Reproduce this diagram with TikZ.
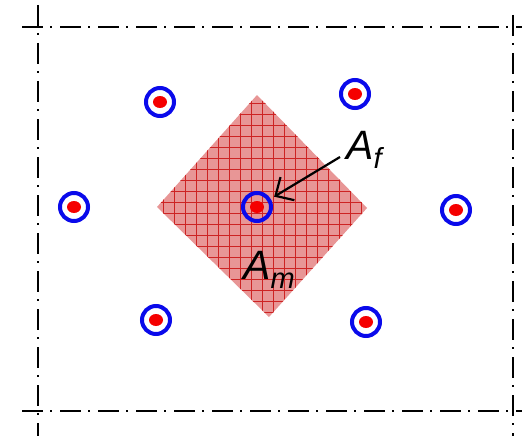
\documentclass[tikz,border=0pt]{standalone}
\usepackage{fontspec}
\setmainfont{Liberation Sans}
\usetikzlibrary{arrows.meta}
\definecolor{ringblue}{RGB}{10,10,235}
\definecolor{dotred}{RGB}{245,0,0}
\definecolor{matfill}{RGB}{232,150,150}
\definecolor{gridred}{RGB}{205,35,35}
\tikzset{
  axisline/.style={line width=2pt, dash pattern=on 21pt off 7pt on 2pt off 8pt},
  fiber/.style={circle, draw=ringblue, line width=4pt, minimum size=28pt, inner sep=0pt, outer sep=2pt},
  core/.style={dotred},
  lbl/.style={font=\fontsize{41}{44}\selectfont\itshape, inner sep=0pt},
  pointer/.style={line width=2.2pt, shorten >=4pt, -{Straight Barb[length=14pt,width=27pt,line width=2.2pt]}}
}
\newcommand{\lowsub}[1]{\raisebox{-0.22em}{\fontsize{29}{30}\selectfont #1}}
\begin{document}
\begin{tikzpicture}[x=1pt,y=-1pt]
\useasboundingbox (0,0) rectangle (522,436);
\fill[white] (0,0) rectangle (522,436);
% matrix area (diamond)
\begin{scope}
  \path[clip] (257,95) -- (367,208) -- (269,317) -- (157,207) -- cycle;
  \fill[matfill] (150,90) rectangle (375,325);
  \foreach \i in {0,...,21} {
    \draw[gridred, line width=0.55pt] (152+11*\i,90) -- (152+11*\i,325);
    \draw[gridred, line width=0.55pt] (150,92+11*\i) -- (375,92+11*\i);
  }
\end{scope}
% dash-dot frame
\draw[axisline] (22,27) -- (522,27);
\draw[axisline] (22,411) -- (522,411);
\draw[axisline] (38,5) -- (38,436);
\draw[axisline] (513,15) -- (513,436);
% fibres
\foreach \n/\x/\y in {f1/160/102, f2/355/94, f3/74/207, fc/257/207, f4/456/210, f5/156/320, f6/366/322} {
  \fill[core] (\x,\y) ellipse [x radius=7pt, y radius=6pt];
  \node[fiber] (\n) at (\x,\y) {};
}
% labels
\node[lbl, anchor=base west] (af) at (346,159) {A\lowsub{f}};
\node[lbl, anchor=base west] (am) at (243,279) {A\lowsub{m}};
\coordinate (afstart) at (340,157);
\draw[pointer] (afstart) -- (fc);
\end{tikzpicture}
\end{document}
